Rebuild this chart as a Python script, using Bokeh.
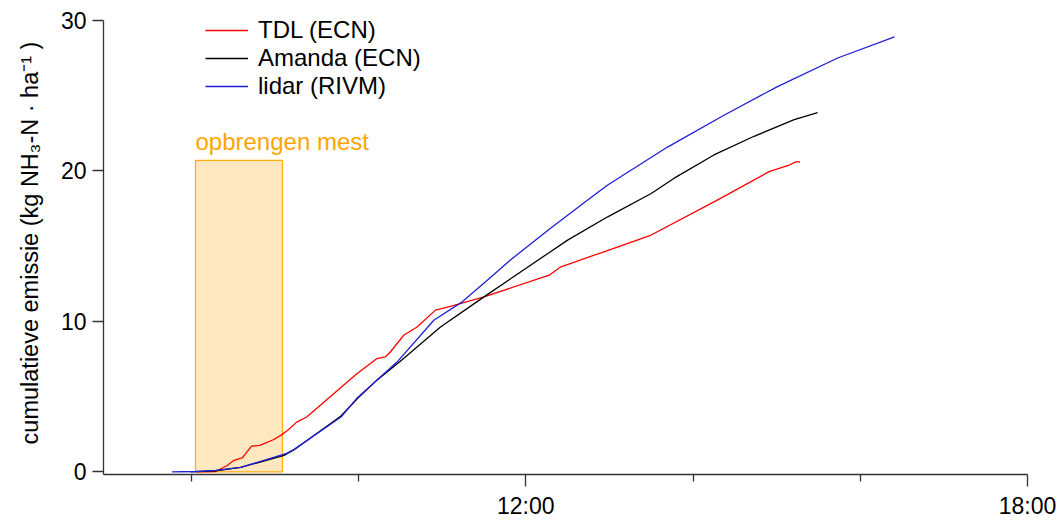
from bokeh.plotting import figure
from bokeh.models import Range1d, FixedTicker, Legend, LegendItem
from bokeh.core.properties import value
from bokeh.embed import file_html
from bokeh.resources import INLINE

# time in decimal hours
tdl_t = [8.07, 8.29, 8.43, 8.51, 8.61, 8.72, 8.82, 8.98, 9.07, 9.15, 9.26, 9.38, 9.98, 10.22, 10.32,
         10.38, 10.54, 10.70, 10.92, 11.10, 11.50, 12.28, 12.42, 12.90, 13.50, 14.29, 14.91, 15.15, 15.23, 15.28]
tdl_v = [0.0, 0.03, 0.43, 0.77, 0.94, 1.72, 1.76, 2.14, 2.43, 2.76, 3.31, 3.65, 6.53, 7.53, 7.64,
         7.97, 9.08, 9.63, 10.75, 11.0, 11.63, 13.07, 13.63, 14.56, 15.74, 18.06, 19.95, 20.39, 20.6, 20.6]

amanda_t = [7.99, 8.29, 8.59, 9.11, 9.23, 9.79, 9.99, 10.22, 10.50, 10.98, 11.50, 12.30, 12.50, 12.98,
            13.50, 13.77, 14.25, 14.73, 15.21, 15.49]
amanda_v = [0.0, 0.07, 0.3, 1.1, 1.48, 3.72, 4.9, 6.1, 7.35, 9.63, 11.63, 14.65, 15.4, 16.95,
            18.5, 19.5, 21.06, 22.3, 23.4, 23.87]

lidar_t = [7.77, 8.05, 8.29, 8.59, 9.13, 9.23, 9.79, 9.99, 10.46, 10.90, 11.24, 11.54, 11.82,
           12.30, 12.74, 12.98, 13.70, 14.37, 15.01, 15.73, 16.41]
lidar_v = [0.0, 0.03, 0.1, 0.3, 1.21, 1.5, 3.65, 4.95, 7.3, 10.08, 11.3, 12.74, 14.1,
           16.2, 18.06, 19.06, 21.6, 23.7, 25.6, 27.5, 28.9]

manure_start = [8.05]
manure_end = [9.09]
manure_top = [20.7]
manure_label = ["opbrengen mest"]

major_ticks = [12, 18]
minor_ticks = [8, 10, 14, 16]
tick_labels = {12: "12:00", 18: "18:00"}
y_ticks = [0, 10, 20, 30]

FONT = "Liberation Sans"

p = figure(width=1060, height=521, output_backend="svg", toolbar_location=None,
           x_range=Range1d(6.95, 18.0), y_range=Range1d(-0.17, 30.59),
           min_border_left=103, min_border_right=33, min_border_top=11, min_border_bottom=47)
p.outline_line_color = None
p.grid.visible = False
p.background_fill_color = "white"

p.quad(left=manure_start, right=manure_end, bottom=[0], top=manure_top,
       fill_color="#FFA500", fill_alpha=0.25, line_color="#FFAA10", line_width=1.2)
p.text(x=manure_start, y=manure_top, text=manure_label, text_color="#FFA500",
       text_font=value(FONT), text_font_size="24px", text_baseline="bottom",
       text_align="left", y_offset=-5)

r_tdl = p.line(tdl_t, tdl_v, line_color="#FF0000", line_width=1.3)
r_am = p.line(amanda_t, amanda_v, line_color="#000000", line_width=1.3)
r_li = p.line(lidar_t, lidar_v, line_color="#1F1FD8", line_width=1.3)

xa = p.xaxis[0]
xa.ticker = FixedTicker(ticks=major_ticks, minor_ticks=minor_ticks)
xa.major_label_overrides = tick_labels
xa.major_tick_out = 12
xa.major_tick_in = 0
xa.minor_tick_out = 7
xa.minor_tick_in = 0
xa.major_label_standoff = 6
xa.major_label_text_font = FONT
xa.major_label_text_font_size = "23px"
xa.major_label_text_color = "black"
xa.axis_line_color = "#333333"
xa.major_tick_line_color = "#333333"
xa.minor_tick_line_color = "#333333"
xa.axis_line_width = 1.3
xa.major_tick_line_width = 1.3
xa.minor_tick_line_width = 1.3

ya = p.yaxis[0]
ya.ticker = FixedTicker(ticks=y_ticks, minor_ticks=[])
ya.bounds = (-0.17, 30)
ya.major_tick_out = 11
ya.major_tick_in = 0
ya.minor_tick_out = 0
ya.major_label_standoff = 6
ya.major_label_text_font = FONT
ya.major_label_text_font_size = "23px"
ya.major_label_text_color = "black"
ya.axis_line_color = "#333333"
ya.major_tick_line_color = "#333333"
ya.axis_line_width = 1.3
ya.major_tick_line_width = 1.3
ya.axis_label = "cumulatieve emissie (kg NH\u2083-N \u00b7 ha\u207b\u00b9 )"
ya.axis_label_text_font = FONT
ya.axis_label_text_font_size = "23.5px"
ya.axis_label_text_font_style = "normal"
ya.axis_label_text_color = "black"
ya.axis_label_standoff = 15

legend = Legend(items=[
    LegendItem(label="TDL (ECN)", renderers=[r_tdl]),
    LegendItem(label="Amanda (ECN)", renderers=[r_am]),
    LegendItem(label="lidar (RIVM)", renderers=[r_li]),
], location=(102, 374))
legend.background_fill_alpha = 0
legend.border_line_color = None
legend.padding = 0
legend.margin = 0
legend.spacing = 0
legend.glyph_width = 43
legend.glyph_height = 20
legend.label_height = 20
legend.label_standoff = 10
legend.label_text_font = FONT
legend.label_text_font_size = "24px"
legend.label_text_color = "black"
legend.label_text_baseline = "middle"
p.add_layout(legend, "center")

open("out.html", "w").write(file_html(p, INLINE))
